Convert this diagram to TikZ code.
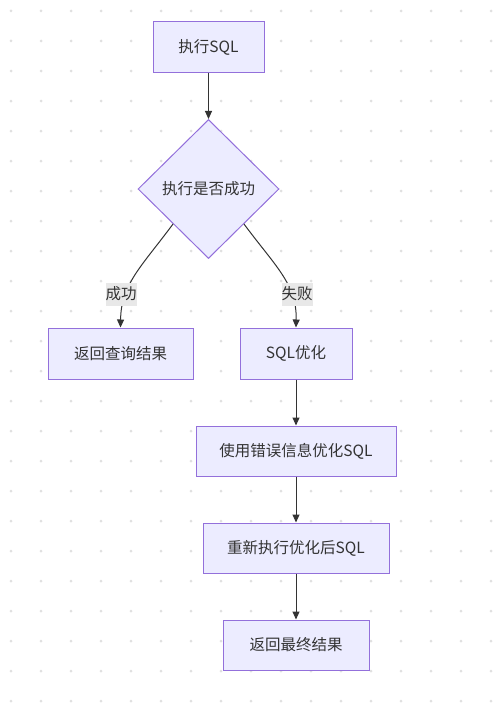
\documentclass[tikz,border=0pt]{standalone}
\usepackage{fontspec}
\setmainfont{Noto Sans CJK SC}
\usetikzlibrary{shapes.geometric,arrows.meta}
\definecolor{nodefill}{HTML}{ECECFF}
\definecolor{nodeline}{HTML}{9370DB}
\definecolor{ink}{HTML}{333333}
\definecolor{dotc}{HTML}{E0E0E0}
\definecolor{lblfill}{HTML}{E8E8E8}
\tikzset{
  box/.style={draw=nodeline, fill=nodefill, line width=1pt, text=ink, inner sep=0pt,
    font=\fontsize{15.5}{18}\selectfont, minimum height=50pt},
  dia/.style={diamond, draw=nodeline, fill=nodefill, line width=1pt, text=ink, inner sep=0pt,
    font=\fontsize{15.5}{18}\selectfont, minimum width=141pt, minimum height=139pt},
  edge/.style={draw=ink, line width=1pt, -{Triangle[length=8pt,width=7pt]}},
  lbl/.style={fill=lblfill, text=ink, inner sep=0pt, minimum width=30pt, minimum height=23pt,
    font=\fontsize{15.5}{18}\selectfont}
}
\begin{document}
\begin{tikzpicture}[x=1pt,y=-1pt]
\useasboundingbox (0,0) rectangle (498,717);
\fill[white] (0,0) rectangle (498,717);
\foreach \i in {11,41,...,491}{\foreach \j in {11,41,...,701}{\fill[dotc] (\i,\j) circle (1.5pt);}}
\node[box, minimum width=111pt] (n1) at (208.5,47) {执行SQL};
\node[dia] (d) at (208.5,189) {执行是否成功};
\node[box, minimum width=145pt, minimum height=51pt] (n3) at (120.5,353.5) {返回查询结果};
\node[box, minimum width=112pt, minimum height=51pt] (n4) at (296,353.5) {SQL优化};
\node[box, minimum width=200pt] (n5) at (296,451) {使用错误信息优化SQL};
\node[box, minimum width=186pt] (n6) at (296,548) {重新执行优化后SQL};
\node[box, minimum width=146pt] (n7) at (296,645) {返回最终结果};
\draw[edge] (n1) -- (d);
\draw[edge] (d.south west) .. controls (142,266) and (121,284) .. (n3.north);
\draw[edge] (d.south east) .. controls (275,266) and (297,284) .. (n4.north);
\node[lbl] (l1) at (121,294) {成功};
\node[lbl] (l2) at (297,294) {失败};
\draw[edge] (n4) -- (n5);
\draw[edge] (n5) -- (n6);
\draw[edge] (n6) -- (n7);
\end{tikzpicture}
\end{document}
